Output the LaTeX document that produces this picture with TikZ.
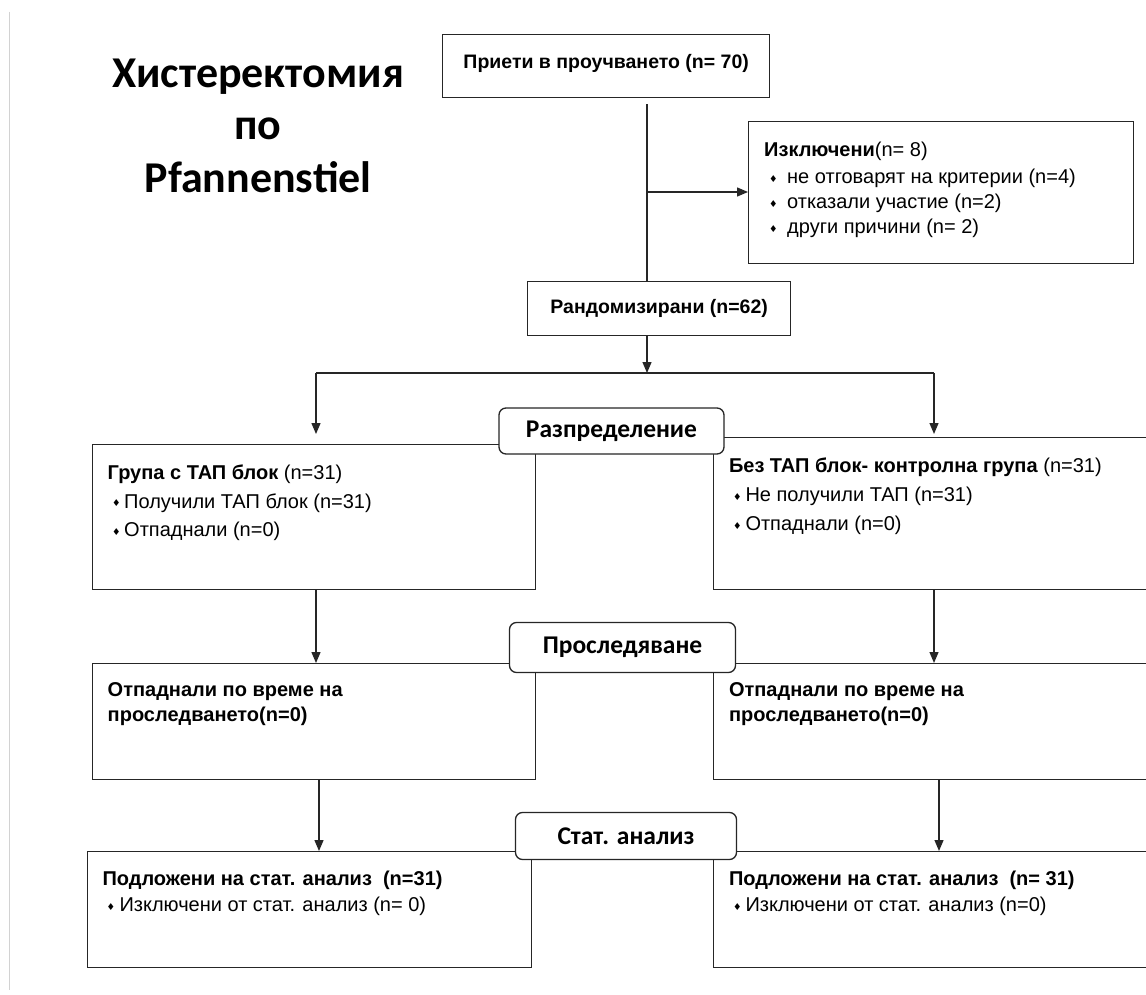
\documentclass[tikz,border=0pt]{standalone}
\usepackage{fontspec}
\setmainfont{Liberation Sans}
\newfontfamily\headfont{Carlito}
\newfontfamily\symfont{DejaVu Sans}
\usepackage{tikz}
\usetikzlibrary{arrows.meta, positioning}
\newcommand{\bul}[1]{\makebox[#1][l]{\raisebox{1.5pt}{\symfont\fontsize{9.5}{9.5}\selectfont ♦}}}
\tikzstyle{frame} = [rectangle, draw=black!85, line width=1.3pt, inner sep=0pt, anchor=north west]
\tikzstyle{stage} = [rectangle, rounded corners=7pt, draw=black!85, line width=1.3pt, fill=white, inner sep=0pt, font=\headfont\bfseries\fontsize{25.5}{25.5}\selectfont]
\tikzstyle{body} = [anchor=north west, align=left, inner sep=0pt, font=\fontsize{20}{26}\selectfont]
\tikzstyle{link} = [line width=1.3pt, draw=black!85]
\tikzstyle{arrow} = [link, -{Triangle[length=11pt, width=9pt]}]

\begin{document}
\begin{tikzpicture}[x=1pt, y=-1pt]
\useasboundingbox (0,0) rectangle (1146,995);
\clip (0,0) rectangle (1146,995);
\draw [gray!35, line width=1pt] (9,12) -- (9,990);

% title
\node (title) [align=center, anchor=north, font=\headfont\bfseries\fontsize{44}{52.5}\selectfont] at (258,55) {Хистеректомия\\по\\Pfannenstiel};

% enrolment
\node (enrol) [frame, minimum width=327pt, minimum height=63pt, text depth=9pt, font=\bfseries\fontsize{19.5}{26}\selectfont] at (442,34) {Приети в проучването (n= 70)};
\node (excl) [frame, minimum width=385pt, minimum height=142pt] at (748,121) {};
\node (excltxt) [body, font=\fontsize{20}{25}\selectfont] at (764,141.5) {\textbf{Изключени}(n= 8)\\[2.7pt]
  \hspace*{5pt}\bul{18pt}не отговарят на критерии (n=4)\\
  \hspace*{5pt}\bul{18pt}отказали участие (n=2)\\
  \hspace*{5pt}\bul{18pt}други причини (n= 2)};
\node (rand) [frame, minimum width=263pt, minimum height=54pt, font=\bfseries\fontsize{19.5}{26}\selectfont] at (527,281) {Рандомизирани (n=62)};

% allocation
\node (grpA) [frame, minimum width=443pt, minimum height=145pt] at (92,444) {};
\node (grpB) [frame, minimum width=500pt, minimum height=152pt] at (713,437) {};
\node (grpAtxt) [body, font=\fontsize{20}{28.5}\selectfont] at (107.5,465) {\textbf{Група с ТАП блок} (n=31)\\
  \hspace*{4.5pt}\bul{12pt}Получили ТАП блок (n=31)\\
  \hspace*{4.5pt}\bul{12pt}Отпаднали (n=0)};
\node (grpBtxt) [body, font=\fontsize{20}{29}\selectfont] at (728.8,458) {\textbf{Без ТАП блок- контролна група} (n=31)\\
  \hspace*{4pt}\bul{12.5pt}Не получили ТАП (n=31)\\
  \hspace*{4pt}\bul{12.5pt}Отпаднали (n=0)};

% follow-up
\node (folA) [frame, minimum width=443pt, minimum height=116pt] at (92,663) {};
\node (folB) [frame, minimum width=500pt, minimum height=116pt] at (713,663) {};
\node (folAtxt) [body, font=\bfseries\fontsize{20}{25}\selectfont] at (107.5,682.5) {Отпаднали по време на\\проследването(n=0)};
\node (folBtxt) [body, font=\bfseries\fontsize{20}{25}\selectfont] at (728.8,682.5) {Отпаднали по време на\\проследването(n=0)};

% analysis
\node (anaA) [frame, minimum width=444pt, minimum height=116pt] at (87,851) {};
\node (anaB) [frame, minimum width=500pt, minimum height=116pt] at (713,851) {};
\node (anaAtxt) [body] at (102.3,871) {\textbf{Подложени на стат. анализ\ \ (n=31)}\\
  \hspace*{4pt}\bul{13pt}Изключени от стат. анализ (n= 0)};
\node (anaBtxt) [body] at (728.8,871) {\textbf{Подложени на стат. анализ\ \ (n= 31)}\\
  \hspace*{4pt}\bul{12.5pt}Изключени от стат. анализ (n=0)};

% connectors
\coordinate (trunk) at (647,192);
\coordinate (fork) at (647,373);
\coordinate (forkL) at (316,373);
\coordinate (forkR) at (934,373);
\coordinate (dropL) at (319,0);
\coordinate (dropR) at (939,0);
\draw [link, shorten <=6pt] (trunk |- enrol.south) -- (trunk |- rand.north);
\draw [arrow] (trunk) -- (trunk -| excl.west);
\draw [arrow] (fork |- rand.south) -- (fork);
\draw [link] (forkL) -- (forkR);
\draw [arrow, shorten >=10pt] (forkL) -- (forkL |- grpA.north);
\draw [arrow, shorten >=3pt] (forkR) -- (forkR |- grpB.north);
\draw [arrow] (forkL |- grpA.south) -- (forkL |- folA.north);
\draw [arrow] (forkR |- grpB.south) -- (forkR |- folB.north);
\draw [arrow] (dropL |- folA.south) -- (dropL |- anaA.north);
\draw [arrow] (dropR |- folB.south) -- (dropR |- anaB.north);

% stages
\node (alloc) [stage, minimum width=225pt, minimum height=46pt] at (611.5,431) {Разпределение};
\node (follow) [stage, minimum width=226pt, minimum height=50pt] at (622.5,647.5) {Проследяване};
\node (stat) [stage, minimum width=221pt, minimum height=47pt] at (626,836) {Стат. анализ};
\end{tikzpicture}
\end{document}
